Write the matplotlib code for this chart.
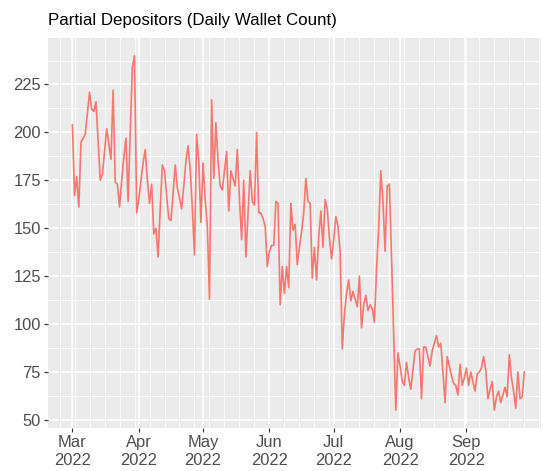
import datetime as dt
import numpy as np
import matplotlib
matplotlib.use("Agg")
import matplotlib.pyplot as plt
import matplotlib.dates as mdates
from matplotlib.ticker import FixedLocator

plt.rcParams["font.family"] = ["Liberation Sans", "DejaVu Sans"]

# Daily partial-depositor wallet counts, starting 2022-03-01
start_date = dt.date(2022, 3, 1)
wallet_count = [
    204, 167, 177, 161, 195, 197, 199, 210, 221, 212,
    211, 216, 195, 175, 178, 190, 202, 194, 186, 222,
    174, 173, 161, 175, 187, 197, 164, 200, 234, 240,
    158, 165, 175, 184, 191, 175, 163, 173, 147, 150,
    135, 160, 183, 180, 167, 155, 154, 168, 183, 171,
    166, 160, 172, 185, 193, 181, 160, 136, 199, 185,
    153, 184, 165, 151, 113, 217, 176, 205, 185, 172,
    170, 180, 190, 159, 180, 176, 172, 191, 165, 144,
    175, 135, 158, 180, 164, 162, 200, 158, 158, 155,
    151, 130, 138, 141, 141, 164, 163, 110, 130, 116,
    130, 119, 163, 149, 152, 131, 140, 148, 158, 176,
    164, 163, 124, 140, 123, 145, 159, 140, 165, 160,
    145, 134, 144, 156, 151, 138, 87, 105, 116, 123,
    112, 117, 113, 109, 125, 98, 110, 115, 107, 110,
    108, 101, 128, 150, 180, 164, 138, 172, 173, 135,
    95, 55, 85, 78, 70, 68, 80, 72, 66, 76,
    86, 87, 87, 61, 88, 88, 83, 78, 86, 90,
    94, 88, 90, 75, 59, 83, 78, 73, 69, 68,
    63, 79, 68, 72, 77, 68, 75, 70, 65, 74,
    75, 77, 83, 76, 61, 66, 70, 55, 62, 65,
    59, 63, 67, 62, 84, 72, 65, 56, 75, 61,
    62, 75,
]
dates = [start_date + dt.timedelta(days=i) for i in range(len(wallet_count))]

title_text = "Partial Depositors (Daily Wallet Count)"
month_breaks = [dt.date(2022, m, 1) for m in range(3, 10)]
y_ticks = [50, 75, 100, 125, 150, 175, 200, 225]
y_minor = [62.5, 87.5, 112.5, 137.5, 162.5, 187.5, 212.5, 237.5]

line_color = "#F8766D"
panel_bg = "#EBEBEB"

fig = plt.figure(figsize=(5.47, 4.71), dpi=100)
W, H = 547, 471
ax = fig.add_axes([48 / W, 1 - 428 / H, (541 - 48) / W, (428 - 38) / H])
ax.set_facecolor(panel_bg)

ax.plot(dates, wallet_count, color=line_color, linewidth=1.2, zorder=3)

# x range with padding on both sides of the data
x0 = mdates.date2num(dates[0])
ax.set_xlim(x0 - 11.4, x0 + 218.8)
ymin, ymax = min(wallet_count), max(wallet_count)
pad = (ymax - ymin) * 0.05
ax.set_ylim(ymin - pad, ymax + pad)

# month breaks only within the data range; weekly minor grid
ax.xaxis.set_major_locator(FixedLocator(mdates.date2num(month_breaks)))
ax.xaxis.set_major_formatter(mdates.DateFormatter("%b\n%Y"))
ax.xaxis.set_minor_locator(mdates.WeekdayLocator(byweekday=mdates.WE))
ax.set_yticks(y_ticks)
ax.set_yticks(y_minor, minor=True)

ax.grid(which="major", color="white", linewidth=1.1, zorder=1)
ax.grid(which="minor", color="white", linewidth=0.55, zorder=1)
ax.set_axisbelow(True)

for s in ax.spines.values():
    s.set_visible(False)

ax.tick_params(axis="both", which="major", length=3.2, width=0.8,
               color="#333333", labelcolor="#4D4D4D", labelsize=11.9, pad=2)
ax.tick_params(axis="both", which="minor", length=0)

fig.text(48 / W, 1 - 25.5 / H, title_text, fontsize=12.2, color="black",
         ha="left", va="baseline")

fig.savefig("out.png", dpi=100)
